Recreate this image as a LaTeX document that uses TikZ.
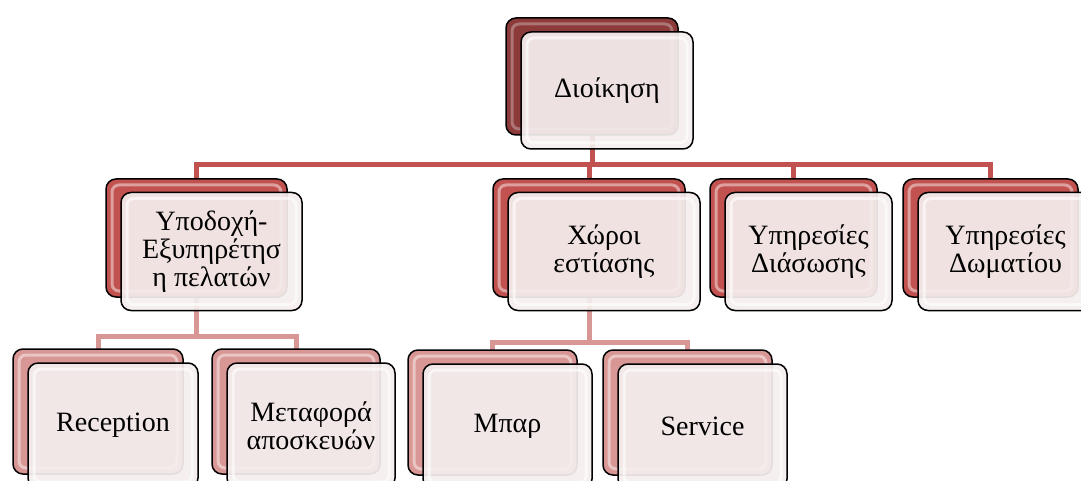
\documentclass[tikz,border=0pt]{standalone}
\usepackage{fontspec}
\setmainfont{Liberation Serif}
\pgfdeclarelayer{bg}
\pgfsetlayers{bg,main}
\definecolor{rootc}{RGB}{140,58,58}
\definecolor{l1c}{RGB}{194,82,79}
\definecolor{l2c}{RGB}{216,150,148}
\definecolor{frontc}{RGB}{245,238,238}
\tikzset{
  x=1pt,y=-1pt,
  glow/.style={path picture={\draw[white,line width=3pt,opacity=#1,rounded corners=7pt]
      ([shift={(6pt,-6pt)}]path picture bounding box.north west) rectangle
      ([shift={(-6pt,6pt)}]path picture bounding box.south east);}},
  backbox/.style={draw=black,line width=1.5pt,rounded corners=10pt,inner sep=0pt,outer sep=0pt},
  rootback/.style={backbox,fill=rootc,glow=0.3},
  lonback/.style={backbox,fill=l1c,glow=0.45},
  ltwoback/.style={backbox,fill=l2c,glow=0.45},
  frontbox/.style={draw=black,line width=1.5pt,rounded corners=10pt,fill=frontc,fill opacity=0.93,
      text opacity=1,inner sep=0pt,outer sep=0pt,align=center,glow=0.6,
      font=\rmfamily\fontsize{28}{28}\selectfont},
  lonline/.style={draw=l1c,line width=5pt},
  ltwoline/.style={draw=l2c,line width=5pt},
}
\begin{document}
\begin{tikzpicture}
\clip (0,0) rectangle (1081,481);
\useasboundingbox (0,0) rectangle (1081,481);
% root
\node[rootback,minimum width=172pt,minimum height=117pt] (rootb) at (592,76.5) {};
\node[frontbox,minimum width=172pt,minimum height=117pt] (root) at (607,90.5) {Διοίκηση};
% level 1
\node[lonback,minimum width=181pt,minimum height=118pt] (Ab) at (196.5,238) {};
\node[frontbox,minimum width=181pt,minimum height=118pt] (A) at (211.5,251.5) {Υποδοχή-\\Εξυπηρέτησ\\η πελατών};
\node[lonback,minimum width=192pt,minimum height=118pt] (Bb) at (589,238) {};
\node[frontbox,minimum width=192pt,minimum height=118pt] (B) at (604,251.5) {Χώροι\\εστίασης};
\node[lonback,minimum width=167pt,minimum height=118pt] (Cb) at (793.5,238) {};
\node[frontbox,minimum width=167pt,minimum height=118pt] (C) at (808.5,251.5) {Υπηρεσίες\\Διάσωσης};
\node[lonback,minimum width=175pt,minimum height=118pt] (Db) at (990.5,238) {};
\node[frontbox,minimum width=175pt,minimum height=118pt] (D) at (1005.5,251.5) {Υπηρεσίες\\Δωματίου};
% level 2
\node[ltwoback,minimum width=170pt,minimum height=125pt] (Rb) at (98,411.5) {};
\node[frontbox,minimum width=170pt,minimum height=125pt] (R) at (113,425.5) {Reception};
\node[ltwoback,minimum width=168pt,minimum height=125pt] (Mb) at (296,411.5) {};
\node[frontbox,minimum width=168pt,minimum height=125pt] (M) at (311,425.5) {Μεταφορά\\αποσκευών};
\node[ltwoback,minimum width=169pt,minimum height=125pt] (Pb) at (492.5,412.5) {};
\node[frontbox,minimum width=169pt,minimum height=125pt] (P) at (507.5,426.5) {Μπαρ};
\node[ltwoback,minimum width=169pt,minimum height=125pt] (Sb) at (687.5,412.5) {};
\node[frontbox,minimum width=169pt,minimum height=125pt] (S) at (702.5,426.5) {Service};
% buses
\coordinate (bus1) at (0,165);
\coordinate (busA) at (0,336);
\coordinate (busB) at (0,342);
\begin{pgfonlayer}{bg}
  \fill[white] (0,0) rectangle (1081,481);
  \draw[lonline] (rootb.center) -- (rootb.center |- bus1);
  \draw[lonline] (Ab.center) -- (Ab.center |- bus1) -- (Db.center |- bus1) -- (Db.center);
  \draw[lonline] (Bb.center |- bus1) -- (Bb.center);
  \draw[lonline] (Cb.center |- bus1) -- (Cb.center);
  \draw[ltwoline] (Ab.center) -- (Ab.center |- busA);
  \draw[ltwoline] (Rb.center) -- (Rb.center |- busA) -- (Mb.center |- busA) -- (Mb.center);
  \draw[ltwoline] (Bb.center) -- (Bb.center |- busB);
  \draw[ltwoline] (Pb.center) -- (Pb.center |- busB) -- (Sb.center |- busB) -- (Sb.center);
\end{pgfonlayer}
\end{tikzpicture}
\end{document}
